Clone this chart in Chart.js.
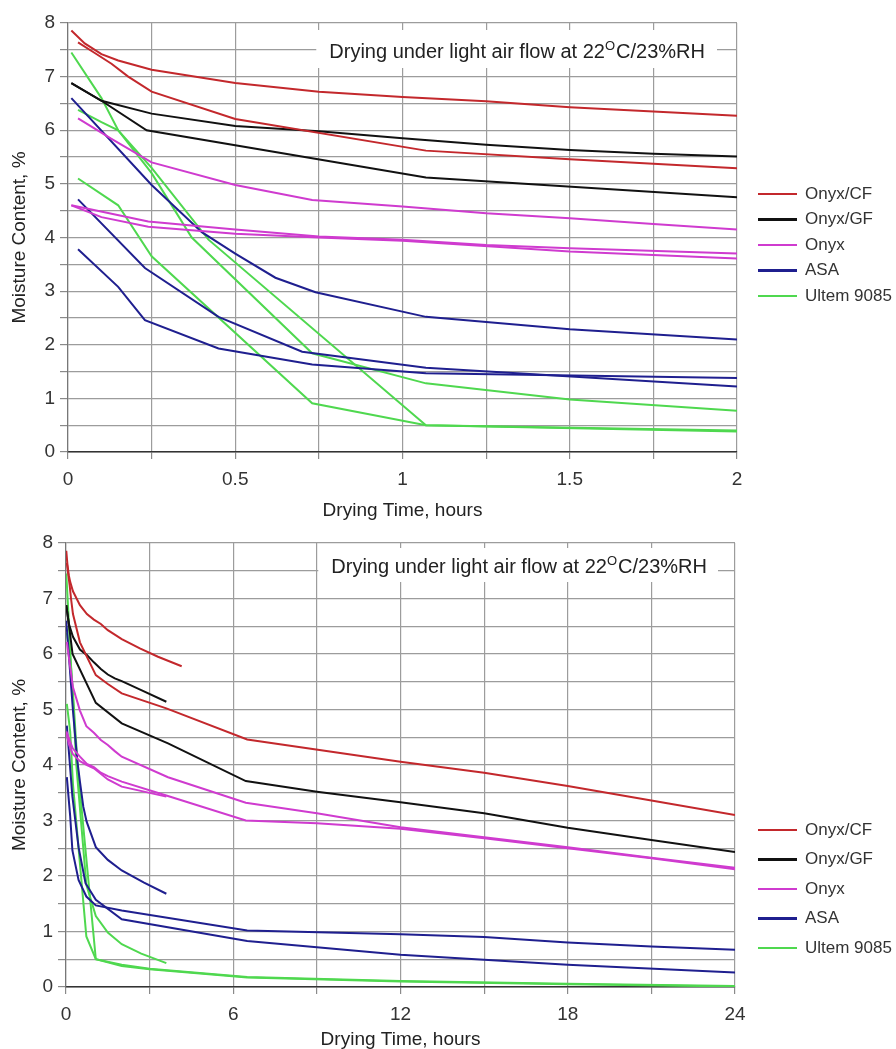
<!DOCTYPE html>
<html>
<head>
<meta charset="utf-8">
<script src="https://cdn.jsdelivr.net/npm/chart.js@4.4.1/dist/chart.umd.min.js"></script>
<style>
  body { margin: 0; background: #fff; width: 896px; height: 1049px; overflow: hidden; position: relative;
         font-family: "Liberation Sans", Arial, sans-serif; }
  canvas { position: absolute; left: 0; }
  #chartShort { top: 0; }
  #chartLong { top: 521px; }
  .legend { position: absolute; left: 758px; font-size: 17px; color: #333; }
  .legend .item { display: flex; align-items: center; white-space: nowrap; }
  .legend .swatch { width: 39px; height: 2.5px; margin-right: 8px; }
</style>
</head>
<body>
<canvas id="chartShort" width="896" height="521"></canvas>
<canvas id="chartLong" width="896" height="528"></canvas>
<div class="legend" id="legendShort" style="top:181px"></div>
<div class="legend" id="legendLong" style="top:815px"></div>

<script>
// moisture content (%) vs drying time (hours), [time, moisture] per specimen
const onyxCF1 = [[0.01, 7.86], [0.05, 7.62], [0.1, 7.42], [0.15, 7.3], [0.25, 7.13], [0.5, 6.88], [0.75, 6.72],
  [1.0, 6.62], [1.25, 6.54], [1.5, 6.43], [1.75, 6.35], [2.0, 6.27], [2.65, 6.1], [3.3, 5.95], [4.15, 5.78]];
const onyxCF2 = [[0.03, 7.64], [0.08, 7.44], [0.13, 7.24], [0.18, 7.0], [0.25, 6.72], [0.5, 6.21], [1.07, 5.62],
  [1.5, 5.46], [2.0, 5.29], [3.6, 5.02], [6.5, 4.46], [12, 4.06], [15, 3.86], [18, 3.62], [21, 3.36], [24, 3.1]];

const onyxGF1 = [[0.01, 6.88], [0.1, 6.55], [0.25, 6.31], [0.5, 6.08], [0.75, 5.98], [1.0, 5.85], [1.25, 5.73],
  [1.5, 5.63], [1.75, 5.56], [2.0, 5.51], [2.7, 5.35], [3.6, 5.14]];
const onyxGF2 = [[0.01, 6.88], [0.1, 6.55], [0.235, 6.0], [1.07, 5.12], [2.0, 4.75], [3.66, 4.39], [6.45, 3.71],
  [9, 3.52], [12, 3.33], [15, 3.13], [18, 2.87], [21, 2.65], [24, 2.43]];

const onyx1 = [[0.03, 6.22], [0.13, 5.84], [0.25, 5.4], [0.5, 4.98], [0.73, 4.7], [1.0, 4.58], [1.25, 4.45],
  [1.5, 4.36], [1.75, 4.25], [2.0, 4.15], [3.66, 3.78], [6.45, 3.32], [9, 3.13], [12, 2.88], [15, 2.7],
  [18, 2.52], [21, 2.33], [24, 2.15]];
const onyx2 = [[0.01, 4.6], [0.24, 4.3], [0.5, 4.15], [0.75, 4.02], [1.0, 3.96], [1.25, 3.86], [1.5, 3.8],
  [2.0, 3.7], [3.6, 3.45], [6.45, 3.0], [9, 2.95], [12, 2.85], [15, 2.68], [18, 2.5], [21, 2.32], [24, 2.12]];
const onyx3 = [[0.01, 4.6], [0.1, 4.38], [0.24, 4.2], [0.5, 4.07], [0.75, 4.0], [1.0, 3.94], [1.5, 3.74],
  [2.0, 3.61], [3.6, 3.43]];

const asa1 = [[0.01, 6.6], [0.25, 4.98], [0.4, 4.1], [0.5, 3.7], [0.62, 3.25], [0.74, 2.98], [1.07, 2.52],
  [1.5, 2.29], [2.0, 2.1], [2.8, 1.88], [3.6, 1.68]];
const asa2 = [[0.03, 4.71], [0.23, 3.43], [0.45, 2.52], [0.7, 1.87], [1.07, 1.57], [2.0, 1.22], [6.5, 0.83],
  [12, 0.58], [18, 0.4], [24, 0.26]];
const asa3 = [[0.03, 3.78], [0.15, 3.08], [0.23, 2.46], [0.45, 1.93], [0.73, 1.63], [1.07, 1.47], [2.0, 1.38],
  [6.5, 1.02], [12, 0.95], [15, 0.9], [18, 0.8], [21, 0.73], [24, 0.67]];

const ultem1 = [[0.01, 7.45], [0.1, 6.6], [0.15, 6.0], [0.25, 5.2], [0.37, 4.0], [0.73, 1.84], [1.07, 1.28],
  [1.5, 0.98], [2.0, 0.77], [2.7, 0.6], [3.6, 0.43]];
const ultem2 = [[0.03, 6.38], [0.1, 6.15], [0.15, 6.0], [0.25, 5.3], [0.42, 3.96], [1.07, 0.5], [2.0, 0.4],
  [3, 0.33], [6.5, 0.18], [12, 0.11], [18, 0.06], [24, 0.02]];
const ultem3 = [[0.03, 5.1], [0.15, 4.6], [0.25, 3.65], [0.73, 0.91], [1.07, 0.5], [2.0, 0.38], [3, 0.32],
  [6.5, 0.17], [12, 0.1], [18, 0.05], [24, 0.01]];

const materials = [
  { label: "Onyx/CF", color: "#c3282c", runs: [onyxCF1, onyxCF2] },
  { label: "Onyx/GF", color: "#111111", runs: [onyxGF1, onyxGF2] },
  { label: "Onyx", color: "#cf3bcf", runs: [onyx1, onyx2, onyx3] },
  { label: "ASA", color: "#1f1f8f", runs: [asa1, asa2, asa3] },
  { label: "Ultem 9085", color: "#4fd84f", runs: [ultem1, ultem2, ultem3] },
];

const yTicks = { min: 0, max: 8, step: 0.5 };
const noteBefore = "Drying under light air flow at 22";
const noteSup = "O";
const noteAfter = "C/23%RH";

Chart.defaults.font.family = '"Liberation Sans", Arial, sans-serif';
Chart.defaults.color = "#333";

const buildDatasets = () =>
  materials.flatMap((m) =>
    m.runs.map((run) => ({
      label: m.label,
      data: run.map(([x, y]) => ({ x, y })),
      borderColor: m.color,
      borderWidth: 2,
      pointRadius: 0,
      tension: 0,
      fill: false,
    }))
  );

// white box with the test conditions, drawn over the grid in the top right
const conditionsNote = {
  id: "conditionsNote",
  beforeDatasetsDraw(chart, args, o) {
    const { ctx, chartArea } = chart;
    const { top, right } = chartArea;
    const main = '20px "Liberation Sans", Arial, sans-serif';
    const small = '13px "Liberation Sans", Arial, sans-serif';
    ctx.save();
    ctx.font = main;
    const w1 = ctx.measureText(noteBefore).width;
    const w3 = ctx.measureText(noteAfter).width;
    ctx.font = small;
    const w2 = ctx.measureText(noteSup).width + 1;
    const x1 = right - o.textRight - w1 - w2 - w3;
    const boxLeft = x1 - 13;
    ctx.fillStyle = "#fff";
    ctx.fillRect(boxLeft, top + o.boxTop, right - o.boxRight - boxLeft, o.boxHeight);
    ctx.fillStyle = "#222";
    ctx.textBaseline = "alphabetic";
    ctx.font = main;
    ctx.fillText(noteBefore, x1, top + o.baseline);
    ctx.font = small;
    ctx.fillText(noteSup, x1 + w1, top + o.baseline - 8);
    ctx.font = main;
    ctx.fillText(noteAfter, x1 + w1 + w2, top + o.baseline);
    ctx.restore();
  },
};

const makeChart = (id, cfg) =>
  new Chart(document.getElementById(id), {
    type: "line",
    data: { datasets: buildDatasets() },
    plugins: [conditionsNote],
    options: {
      responsive: false,
      animation: false,
      layout: { padding: { top: cfg.padTop, right: cfg.padRight, left: 0, bottom: 0 } },
      plugins: {
        legend: { display: false },
        tooltip: { enabled: false },
        conditionsNote: cfg.note,
      },
      scales: {
        x: {
          type: "linear",
          min: 0,
          max: cfg.xMax,
          afterFit: (s) => { s.height = cfg.xHeight; },
          ticks: {
            stepSize: cfg.xStep,
            autoSkip: false,
            maxRotation: 0,
            padding: 9,
            font: { size: 19 },
            callback: (v) => (Math.abs(v / cfg.xLabelEvery - Math.round(v / cfg.xLabelEvery)) < 1e-6 ? v : ""),
          },
          grid: { color: "#9c9c9c", lineWidth: 1.2, tickLength: 7, tickColor: "#8a8a8a" },
          border: { color: "#333", width: 1.5 },
          title: {
            display: true,
            text: "Drying Time, hours",
            font: { size: 19, lineHeight: 1 },
            color: "#222",
            padding: { top: 0, bottom: cfg.xTitlePad },
          },
        },
        y: {
          min: yTicks.min,
          max: yTicks.max,
          afterFit: (s) => { s.width = cfg.yWidth; },
          ticks: {
            stepSize: yTicks.step,
            padding: 5,
            font: { size: 19 },
            callback: (v) => (Number.isInteger(v) ? v : ""),
          },
          grid: { color: "#9c9c9c", lineWidth: 1.2, tickLength: 8, tickColor: "#8a8a8a" },
          border: { color: "#777", width: 1.2 },
          title: {
            display: true,
            text: "Moisture Content, %",
            font: { size: 19, lineHeight: 1 },
            color: "#222",
            padding: { top: 10.5, bottom: 0 },
          },
        },
      },
    },
  });

makeChart("chartShort", {
  xMax: 2, xStep: 0.25, xLabelEvery: 0.5,
  padTop: 23, padRight: 159, yWidth: 68, xHeight: 69, xTitlePad: 0.5,
  note: { textRight: 32, boxRight: 20, boxTop: 7, boxHeight: 38, baseline: 35 },
});

makeChart("chartLong", {
  xMax: 24, xStep: 3, xLabelEvery: 6,
  padTop: 22, padRight: 161, yWidth: 66, xHeight: 62, xTitlePad: 0,
  note: { textRight: 28, boxRight: 17, boxTop: 5, boxHeight: 34, baseline: 30 },
});

// shared legend: one entry per material, placed beside each plot
const fillLegend = (id, rowHeight) => {
  const box = document.getElementById(id);
  materials.forEach((m) => {
    const row = document.createElement("div");
    row.className = "item";
    row.style.height = rowHeight + "px";
    const sw = document.createElement("span");
    sw.className = "swatch";
    sw.style.background = m.color;
    const txt = document.createElement("span");
    txt.textContent = m.label;
    row.append(sw, txt);
    box.append(row);
  });
};
fillLegend("legendShort", 25.5);
fillLegend("legendLong", 29.5);
</script>
</body>
</html>
